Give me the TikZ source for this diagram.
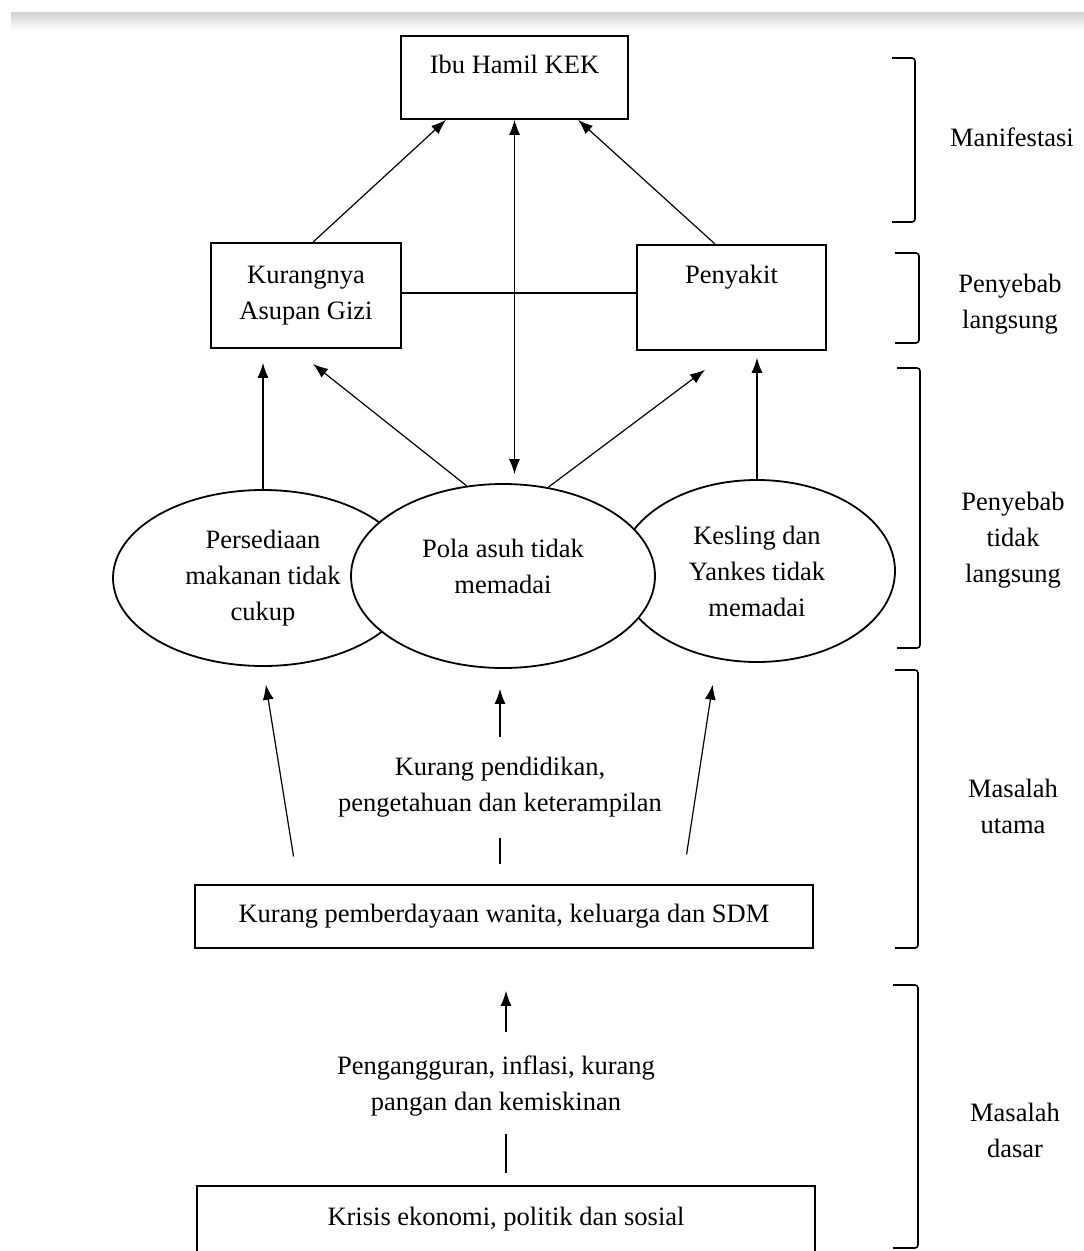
\documentclass[tikz,border=0pt]{standalone}
\usepackage{fontspec}
\setmainfont{Liberation Serif}
\usetikzlibrary{shapes.geometric,arrows.meta}

\tikzset{
  box/.style={draw, line width=1.8pt, inner sep=0pt, align=center},
  oval/.style={draw, ellipse, line width=1.8pt, fill=white, inner sep=0pt, align=center},
  lbl/.style={inner sep=0pt, align=center},
}

\begin{document}
\begin{tikzpicture}[x=1pt, y=-1pt, line width=1.2pt,
    >={Latex[length=15pt,width=11pt]},
    font=\fontsize{26.5}{36}\selectfont]
    \useasboundingbox (0,0) rectangle (1084,1251);
    \shade[top color=black!18, bottom color=white] (11,12) rectangle (1084,30);

    % boxes on top
    \node[box, anchor=north, minimum width=227pt, text height=38pt, text depth=45pt] (ibu) at (514.5,35) {Ibu Hamil KEK};
    \node[box, minimum width=190pt, minimum height=105pt] (asupan) at (306,295.5) {Kurangnya\\Asupan Gizi};
    \node[box, anchor=north, minimum width=189pt, text height=39pt, text depth=66pt] (penyakit) at (731.5,244) {Penyakit};

    % ellipses
    \node[oval, minimum width=300pt, minimum height=176pt] (persediaan) at (263,578) {Persediaan\\makanan tidak\\cukup};
    \node[oval, minimum width=276pt, minimum height=182pt] (kesling) at (757,571) {Kesling dan\\Yankes tidak\\memadai};
    \node[oval, minimum width=304pt, minimum height=184pt] (pola) at (503,576) {};
    \node[lbl] (polatxt) at (503,566) {Pola asuh tidak\\memadai};

    \draw[->] ([xshift=7pt]asupan.north) -- ([xshift=-68.5pt]ibu.south);
    \draw[->] ([xshift=-16.5pt]penyakit.north) -- ([xshift=63.5pt]ibu.south);
    \draw[line width=1.8pt] ([yshift=2.5pt]asupan.east) -- ([yshift=2.5pt]asupan.east -| penyakit.west);
    \draw[<->, shorten >=9pt] (ibu.south) -- (ibu.south |- pola.north);

    \draw[->, shorten >=14pt] (persediaan) -- (persediaan |- asupan.south);
    \draw[->] (pola.112) -- ([xshift=7pt, yshift=-15pt]asupan.south);
    \draw[->] (pola.63) -- ([xshift=-26.5pt, yshift=-19pt]penyakit.south);
    \draw[->, shorten >=7pt] (kesling) -- (kesling |- penyakit.south);

    % bottom part
    \node[box, minimum width=618pt, minimum height=63pt] (pemberdayaan) at (504,916.5) {Kurang pemberdayaan wanita, keluarga dan SDM};
    \node[lbl] (pendidikan) at (500,787) {Kurang pendidikan,\\pengetahuan dan keterampilan};
    \node[box, anchor=north, minimum width=618pt, text height=40pt, text depth=45pt] (krisis) at (506,1185) {Krisis ekonomi, politik dan sosial};
    \node[lbl] (pengangguran) at (496,1086) {Pengangguran, inflasi, kurang\\pangan dan kemiskinan};

    \draw[->, shorten <=28pt, shorten >=18pt] ([xshift=-206pt]pemberdayaan.north) -- (persediaan.south);
    \draw[->, shorten <=30pt, shorten >=22pt] ([xshift=178pt]pemberdayaan.north) -- ([xshift=-41pt]kesling.south);
    \draw[shorten <=20pt, shorten >=20pt] (pemberdayaan.north -| pendidikan) -- (pendidikan.south);
    \draw[->, shorten <=19pt, shorten >=20pt] (pendidikan.north) -- (pendidikan |- pola.south);

    \draw[->, shorten <=23pt, shorten >=42pt] (pengangguran.north -| krisis.north) -- (pemberdayaan.south -| krisis.north);
    \draw[shorten <=12pt, shorten >=17pt] (krisis.north) -- (pengangguran.south -| krisis.north);

    % brackets on the right
    \foreach \t/\b/\xl/\xr in {58/222/892/915, 253/343/895/919, 368/648/897/920, 670/948/895/918, 985/1248/893/918}
        \draw[line width=1.6pt, rounded corners=3pt] (\xl,\t) -- (\xr,\t) -- (\xr,\b) -- (\xl,\b);

    \node[lbl] (manifestasi) at (1012,137) {Manifestasi};
    \node[lbl] (langsung) at (1010,304) {Penyebab\\langsung};
    \node[lbl] (taklangsung) at (1013,540) {Penyebab\\tidak\\langsung};
    \node[lbl] (utama) at (1013,806) {Masalah\\utama};
    \node[lbl] (dasar) at (1015,1130) {Masalah\\dasar};
\end{tikzpicture}
\end{document}
